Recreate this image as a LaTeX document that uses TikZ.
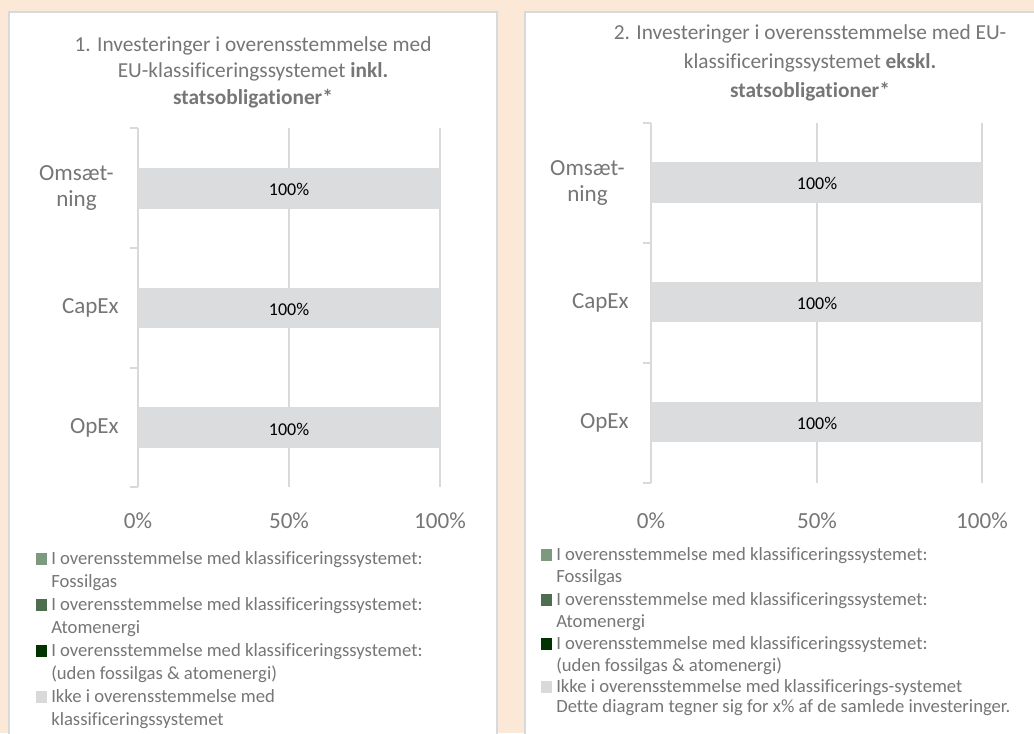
\documentclass[tikz,border=0pt]{standalone}
\usepackage{fontspec}
\setmainfont{Carlito}[Ligatures=NoCommon]
\definecolor{bgpeach}{HTML}{FBE8D6}
\definecolor{panelborder}{HTML}{D6D9DD}
\definecolor{txtgray}{HTML}{767676}
\definecolor{barfill}{HTML}{DBDCDE}
\definecolor{gridgray}{HTML}{D9D9D9}
\definecolor{fossil}{HTML}{7E9A7E}
\definecolor{atom}{HTML}{4D6F4F}
\definecolor{darkgreen}{HTML}{003300}
\definecolor{ikke}{HTML}{D9D9D9}
\begin{document}
\begin{tikzpicture}[x=0.75pt,y=-0.75pt,
  panel/.style={draw=panelborder,line width=1.5pt,fill=white},
  titletxt/.style={text=txtgray,align=center,inner sep=0pt,font=\fontsize{16pt}{19.8pt}\selectfont},
  ticklbl/.style={text=txtgray,inner sep=0pt,font=\fontsize{17.3pt}{20pt}\selectfont},
  catlbl/.style={text=txtgray,inner sep=0pt,align=center,anchor=east,font=\fontsize{17.3pt}{19.5pt}\selectfont},
  barlbl/.style={text=black,inner sep=0pt,font=\fontsize{13.5pt}{16pt}\selectfont},
  bar/.style={fill=barfill,draw=none},
  gridln/.style={draw=gridgray,line width=1.5pt},
  legsq/.style={draw=none,minimum size=8.4pt,inner sep=0pt,anchor=west},
  legtxt/.style={text=txtgray,inner sep=0pt,anchor=base west,align=left,font=\fontsize{14pt}{17.1pt}\selectfont},
]
\useasboundingbox (0,0) rectangle (1034,733);
\fill[bgpeach] (0,0) rectangle (1034,733);
\begin{scope}
\clip (0,0) rectangle (1034,733);
\path[panel] (9,12) rectangle (497,745);
\path[panel] (525,12) rectangle (1045,745);
\end{scope}

% ---------- Left chart ----------
\node[titletxt] (t1) at (253,72) {1. Investeringer i overensstemmelse med\\EU-klassificeringssystemet \textbf{inkl.}\\\textbf{statsobligationer*}};
\draw[gridln] (289,128) -- (289,487);
\draw[gridln] (440,128) -- (440,487);
\draw[gridln] (138,128) -- (138,487);
\foreach \yy in {128,248,368,487} \draw[gridln] (130,\yy) -- (138,\yy);
\path[bar] (138,168) rectangle (440,209);
\path[bar] (138,288) rectangle (440,328);
\path[bar] (138,407) rectangle (440,448);
\node[barlbl] (b1a) at (289,189) {100\%};
\node[barlbl] (b1b) at (289,309) {100\%};
\node[barlbl] (b1c) at (289,429) {100\%};
\node[catlbl] (c1a) at (114,188) {Omsæt-\\ning};
\node[catlbl] (c1b) at (119,308) {CapEx};
\node[catlbl] (c1c) at (119,428) {OpEx};
\node[ticklbl] (x1a) at (138,521) {0\%};
\node[ticklbl] (x1b) at (289,521) {50\%};
\node[ticklbl] (x1c) at (440,521) {100\%};

\node[legsq,fill=fossil] (l1a) at (36,559) {};
\node[legsq,fill=atom] (l1b) at (36,605) {};
\node[legsq,fill=darkgreen] (l1c) at (36,651) {};
\node[legsq,fill=ikke] (l1d) at (36,697) {};
\node[legtxt] (lt1a) at (51,587.3) {I overensstemmelse med klassificeringssystemet:\\Fossilgas};
\node[legtxt] (lt1b) at (51,633.3) {I overensstemmelse med klassificeringssystemet:\\Atomenergi};
\node[legtxt] (lt1c) at (51,679.3) {I overensstemmelse med klassificeringssystemet:\\(uden fossilgas \& atomenergi)};
\node[legtxt] (lt1d) at (51,725.3) {Ikke i overensstemmelse med\\klassificeringssystemet};

% ---------- Right chart ----------
\node[titletxt,font=\fontsize{16pt}{21.5pt}\selectfont] (t2) at (810,63) {2. Investeringer i overensstemmelse med EU-\\klassificeringssystemet \textbf{ekskl.}\\\textbf{statsobligationer*}};
\draw[gridln] (817,123) -- (817,483);
\draw[gridln] (982,123) -- (982,483);
\draw[gridln] (651,123) -- (651,483);
\foreach \yy in {123,243,363,483} \draw[gridln] (643,\yy) -- (651,\yy);
\path[bar] (651,162) rectangle (982,203);
\path[bar] (651,282) rectangle (982,322);
\path[bar] (651,402) rectangle (982,442);
\node[barlbl] (b2a) at (817,183) {100\%};
\node[barlbl] (b2b) at (817,303) {100\%};
\node[barlbl] (b2c) at (817,423) {100\%};
\node[catlbl] (c2a) at (625,183) {Omsæt-\\ning};
\node[catlbl] (c2b) at (629,303) {CapEx};
\node[catlbl] (c2c) at (629,423) {OpEx};
\node[ticklbl] (x2a) at (651,521) {0\%};
\node[ticklbl] (x2b) at (817,521) {50\%};
\node[ticklbl] (x2c) at (982,521) {100\%};

\node[legsq,fill=fossil] (l2a) at (541,555) {};
\node[legsq,fill=atom] (l2b) at (541,600) {};
\node[legsq,fill=darkgreen] (l2c) at (541,644) {};
\node[legsq,fill=ikke] (l2d) at (541,687) {};
\node[legtxt,font=\fontsize{14pt}{16.6pt}\selectfont] (lt2a) at (556,582.6) {I overensstemmelse med klassificeringssystemet:\\Fossilgas};
\node[legtxt,font=\fontsize{14pt}{16.6pt}\selectfont] (lt2b) at (556,627.6) {I overensstemmelse med klassificeringssystemet:\\Atomenergi};
\node[legtxt,font=\fontsize{14pt}{16.6pt}\selectfont] (lt2c) at (556,671.6) {I overensstemmelse med klassificeringssystemet:\\(uden fossilgas \& atomenergi)};
\node[legtxt,font=\fontsize{14pt}{15pt}\selectfont] (lt2d) at (556,712.5) {Ikke i overensstemmelse med klassificerings-systemet\\Dette diagram tegner sig for x\% af de samlede investeringer.};
\end{tikzpicture}
\end{document}
